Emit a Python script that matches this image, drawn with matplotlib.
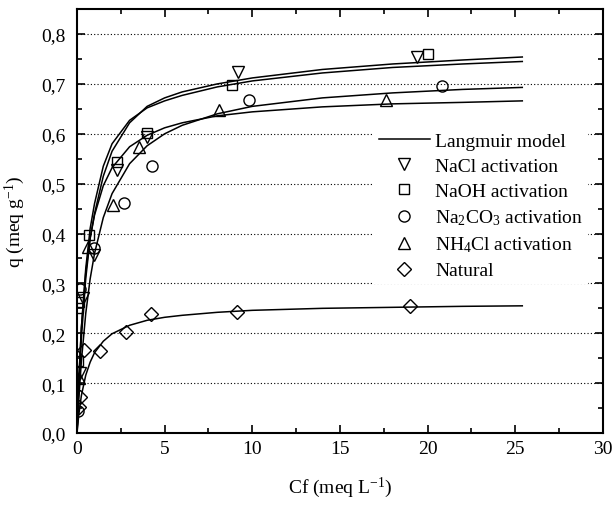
import matplotlib
matplotlib.use('Agg')
import matplotlib.pyplot as plt
import matplotlib.ticker as ticker

plt.rcParams['font.family'] = ['Liberation Serif', 'DejaVu Serif']
plt.rcParams['mathtext.default'] = 'regular'

# Langmuir model curves
curve_cf = [0, 0.1, 0.25, 0.5, 0.75, 1.0, 1.5, 2.0, 3.0, 4.0, 5.0, 6.0, 8.0, 10, 14, 18, 22, 25.4]
curve_a = [0, 0.09, 0.19, 0.31, 0.39, 0.44, 0.515, 0.565, 0.622, 0.655, 0.672, 0.684, 0.70, 0.712, 0.729, 0.740, 0.748, 0.754]
curve_b = [0, 0.10, 0.21, 0.33, 0.41, 0.46, 0.535, 0.58, 0.627, 0.652, 0.666, 0.677, 0.694, 0.706, 0.722, 0.733, 0.740, 0.745]
curve_c = [0, 0.066, 0.144, 0.24, 0.309, 0.36, 0.432, 0.48, 0.54, 0.576, 0.60, 0.617, 0.64, 0.655, 0.672, 0.682, 0.689, 0.693]
curve_d = [0, 0.104, 0.211, 0.322, 0.391, 0.437, 0.496, 0.532, 0.574, 0.597, 0.612, 0.622, 0.636, 0.644, 0.654, 0.660, 0.663, 0.666]
curve_nat = [0, 0.036, 0.075, 0.116, 0.142, 0.161, 0.184, 0.199, 0.216, 0.226, 0.232, 0.236, 0.242, 0.246, 0.250, 0.252, 0.254, 0.255]

# experimental points
nacl_cf = [0.15, 0.36, 0.95, 2.3, 4.0, 9.2, 19.4]
nacl_q = [0.12, 0.27, 0.356, 0.527, 0.593, 0.724, 0.753]
naoh_cf = [0.05, 0.08, 0.12, 0.7, 2.3, 4.0, 8.85, 20.0]
naoh_q = [0.145, 0.25, 0.263, 0.397, 0.543, 0.601, 0.698, 0.759]
na2co3_cf = [0.08, 0.2, 0.95, 2.7, 4.3, 9.8, 20.8]
na2co3_q = [0.045, 0.289, 0.37, 0.462, 0.536, 0.667, 0.695]
nh4cl_cf = [0.12, 0.65, 2.05, 3.55, 8.1, 17.6]
nh4cl_q = [0.11, 0.372, 0.457, 0.573, 0.648, 0.668]
natural_cf = [0.1, 0.2, 0.4, 1.3, 2.8, 4.2, 9.1, 19.0]
natural_q = [0.052, 0.072, 0.167, 0.165, 0.203, 0.239, 0.242, 0.254]

fig = plt.figure(figsize=(6.13, 5.06), dpi=100)
ax = fig.add_axes([0.1256, 0.1423, 0.858, 0.8377])

lw = 1.1
for i, curve in enumerate([curve_a, curve_b, curve_c, curve_d, curve_nat]):
    ax.plot(curve_cf, curve, '-', color='black', linewidth=lw,
            label='Langmuir model' if i == 0 else None, zorder=3)

mkw = dict(linestyle='none', markerfacecolor='none', markeredgecolor='black',
           markeredgewidth=1.0, zorder=4)
ax.plot(nacl_cf, nacl_q, marker='v', markersize=9, label='NaCl activation', **mkw)
ax.plot(naoh_cf, naoh_q, marker='s', markersize=7.5, label='NaOH activation', **mkw)
ax.plot(na2co3_cf, na2co3_q, marker='o', markersize=8, label=r'Na$_2$CO$_3$ activation', **mkw)
ax.plot(nh4cl_cf, nh4cl_q, marker='^', markersize=9, label=r'NH$_4$Cl activation', **mkw)
ax.plot(natural_cf, natural_q, marker='D', markersize=7, label='Natural', **mkw)

ax.set_xlim(0, 30)
ax.set_ylim(0, 0.85)
ax.xaxis.set_major_locator(ticker.MultipleLocator(5))
ax.xaxis.set_minor_locator(ticker.MultipleLocator(2.5))
ax.yaxis.set_major_locator(ticker.MultipleLocator(0.1))
ax.yaxis.set_minor_locator(ticker.MultipleLocator(0.05))
ax.yaxis.set_major_formatter(ticker.FuncFormatter(lambda v, p: f'{v:.1f}'.replace('.', ',')))

for y in [0.1, 0.2, 0.3, 0.4, 0.5, 0.6, 0.7, 0.8]:
    ax.axhline(y, color='black', linewidth=0.8, linestyle=(0, (1, 2)), zorder=1)

ax.tick_params(which='both', direction='in', top=True, right=True, labelsize=14, width=1.2)
ax.tick_params(which='major', length=6)
ax.tick_params(which='minor', length=3.5)
ax.tick_params(axis='y', pad=8)
ax.tick_params(axis='x', pad=5)
for s in ax.spines.values():
    s.set_linewidth(1.5)

ax.set_xlabel(r'Cf (meq L$^{-1}$)', fontsize=14, labelpad=13)
ax.set_ylabel(r'q (meq g$^{-1}$)', fontsize=14, labelpad=10)

leg = ax.legend(loc='upper left', bbox_to_anchor=(0.565, 0.72), frameon=True, fontsize=14,
                handlelength=2.6, handletextpad=0.3, labelspacing=0.38, borderpad=0.25,
                borderaxespad=0, fancybox=False, framealpha=1)
leg.get_frame().set_facecolor('white')
leg.get_frame().set_edgecolor('none')
leg.set_zorder(5)

fig.savefig('out.png', dpi=100)
